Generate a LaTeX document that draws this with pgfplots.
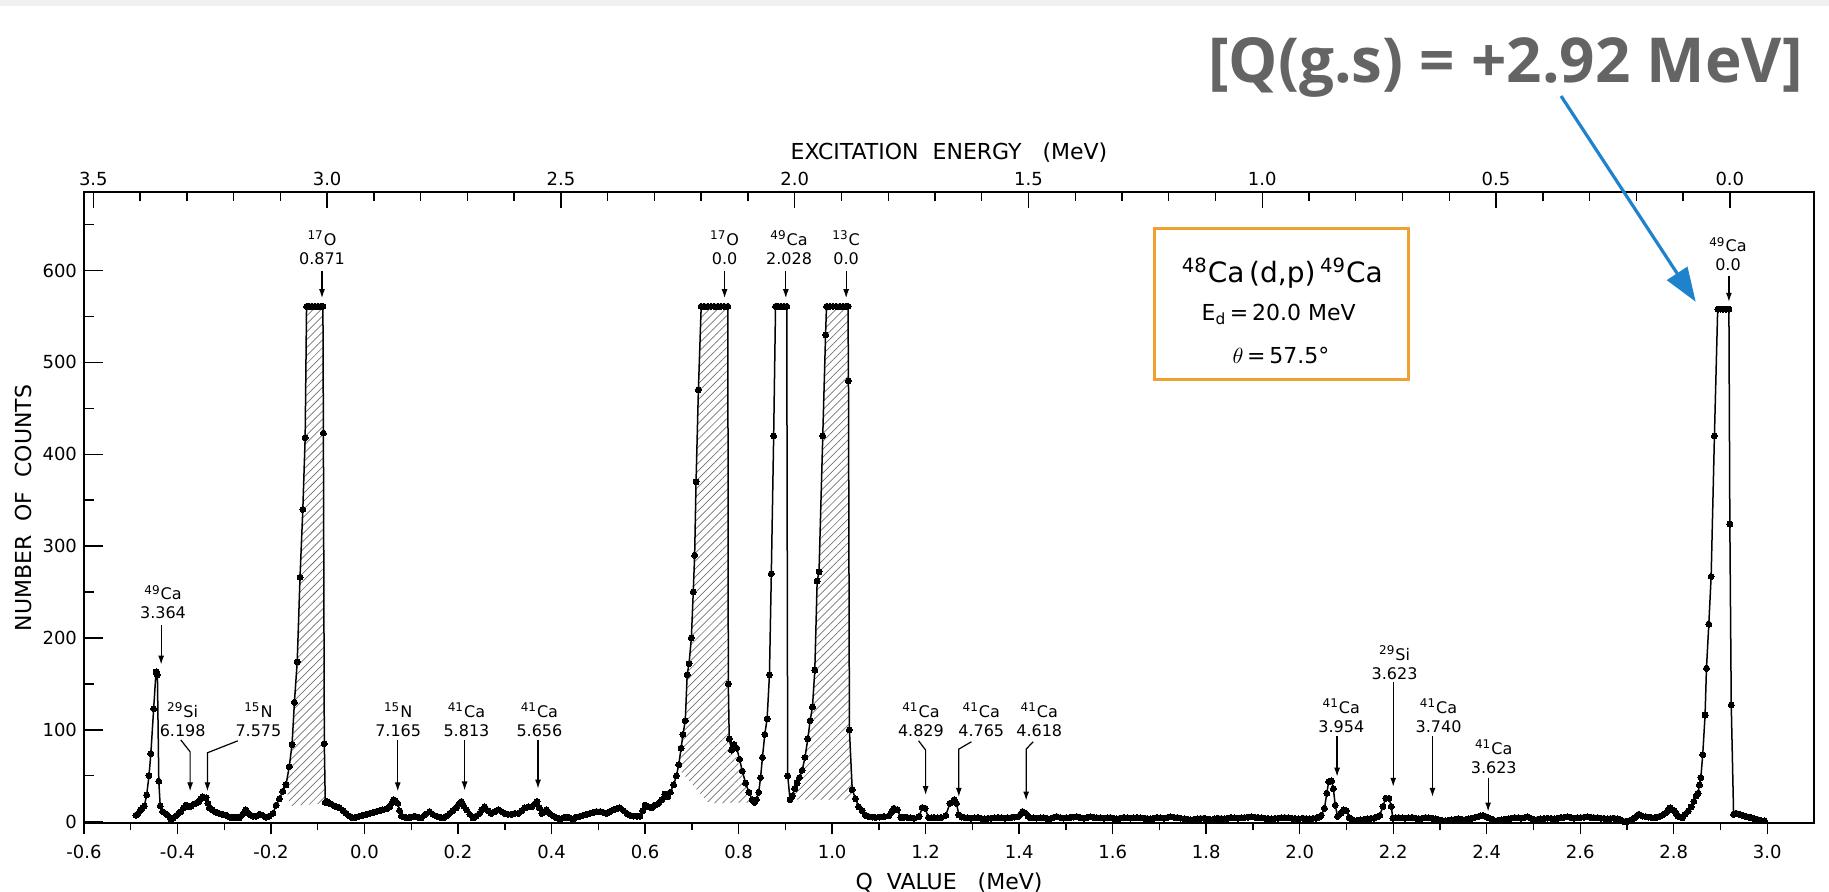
\documentclass[border=0pt]{standalone}
\usepackage{fontspec}
\setmainfont{DejaVu Sans}
\newfontfamily\headfont{Open Sans}
\usepackage{pgfplots}
\usepackage{pgfplotstable}
\pgfplotsset{compat=1.18}
\usetikzlibrary{patterns,patterns.meta,arrows.meta}

\definecolor{boxorange}{RGB}{240,160,48}
\definecolor{arrowblue}{RGB}{30,130,205}
\definecolor{headgray}{RGB}{100,100,100}
\definecolor{stripgray}{RGB}{240,240,240}

\pgfplotstableread{
q c
-0.489 7
-0.484 9
-0.479 13
-0.475 15
-0.471 17
-0.466 29
-0.461 50
-0.457 74
-0.451 123
-0.446 163
-0.443 160
-0.440 44
-0.437 17
-0.432 11
-0.426 9
-0.421 7
-0.414 2
-0.409 4
-0.404 6
-0.398 9
-0.393 11
-0.387 15
-0.382 18
-0.376 16
-0.371 17
-0.366 19
-0.361 20
-0.354 22
-0.350 25
-0.346 27
-0.339 26
-0.335 20
-0.332 15
-0.326 13
-0.321 11
-0.316 10
-0.311 9
-0.304 8
-0.296 7
-0.289 5
-0.282 4
-0.275 5
-0.268 4
-0.261 8
-0.254 13
-0.248 9
-0.243 7
-0.238 6
-0.232 6
-0.225 8
-0.218 7
-0.211 5
-0.204 6
-0.196 9
-0.189 18
-0.182 25
-0.175 33
-0.168 40
-0.161 60
-0.155 84
-0.150 130
-0.144 174
-0.138 266
-0.132 340
-0.127 418
-0.124 561
-0.118 561
-0.112 561
-0.106 561
-0.100 561
-0.094 561
-0.089 561
-0.088 423
-0.086 85
-0.084 21
-0.080 22
-0.075 20
-0.070 19
-0.064 17
-0.059 16
-0.054 15
-0.046 12
-0.039 9
-0.032 6
-0.025 4
-0.018 5
-0.011 6
-0.004 7
0.004 8
0.011 9
0.018 10
0.025 11
0.032 12
0.039 13
0.047 14
0.054 16
0.058 20
0.062 24
0.066 23
0.071 20
0.075 12
0.079 6
0.086 5
0.093 4
0.100 5
0.107 6
0.114 5
0.121 4
0.130 8
0.139 11
0.146 8
0.154 6
0.161 5
0.168 4
0.175 6
0.182 9
0.189 12
0.196 15
0.201 19
0.207 22
0.212 17
0.218 13
0.225 8
0.232 4
0.239 6
0.246 9
0.251 13
0.257 16
0.264 12
0.271 9
0.279 11
0.286 13
0.293 11
0.300 9
0.307 8
0.314 8
0.321 9
0.329 9
0.336 12
0.343 15
0.350 16
0.357 16
0.363 19
0.369 22
0.374 15
0.379 9
0.384 11
0.389 13
0.396 9
0.404 6
0.411 4
0.418 3
0.425 4
0.432 5
0.439 4
0.446 3
0.454 5
0.461 6
0.468 7
0.475 8
0.482 9
0.489 10
0.496 11
0.504 11
0.511 10
0.518 9
0.525 11
0.532 13
0.539 14
0.546 15
0.554 12
0.561 9
0.568 7
0.575 6
0.582 6
0.589 6
0.595 12
0.600 18
0.607 16
0.614 15
0.621 18
0.629 20
0.636 24
0.642 30
0.648 27
0.654 32
0.661 40
0.667 50
0.672 62
0.677 80
0.681 95
0.686 110
0.690 160
0.694 172
0.699 200
0.703 250
0.706 290
0.709 370
0.714 470
0.720 561
0.727 561
0.734 561
0.741 561
0.748 561
0.755 561
0.762 561
0.769 561
0.777 561
0.778 150
0.780 90
0.785 78
0.790 84
0.796 80
0.802 68
0.808 55
0.815 42
0.822 32
0.829 24
0.834 21
0.838 24
0.843 32
0.847 48
0.851 70
0.856 95
0.861 112
0.866 160
0.870 270
0.875 420
0.879 561
0.885 561
0.891 561
0.897 561
0.903 561
0.905 50
0.910 24
0.915 28
0.920 36
0.925 42
0.930 48
0.936 56
0.942 70
0.948 90
0.953 110
0.958 125
0.963 165
0.968 262
0.972 272
0.980 420
0.986 530
0.988 561
0.995 561
1.002 561
1.009 561
1.016 561
1.023 561
1.029 561
1.034 561
1.035 480
1.037 100
1.043 35
1.050 25
1.057 16
1.064 12
1.071 7
1.078 5.6
1.086 5
1.093 4.5
1.102 5
1.111 5.6
1.122 6.7
1.128 11
1.132 14.6
1.139 12.8
1.147 4.5
1.154 5
1.161 4.5
1.168 4
1.175 3.8
1.186 5.6
1.193 15.4
1.199 14.6
1.206 4.5
1.212 4
1.218 4.5
1.226 4
1.233 4.5
1.243 6.7
1.252 20
1.261 23.7
1.266 20
1.271 7.4
1.277 5
1.283 4.5
1.290 4
1.297 3.8
1.305 4.2
1.312 4.5
1.319 3.5
1.326 3.1
1.333 3.6
1.340 3.8
1.348 4.2
1.355 4.5
1.362 4
1.369 3.8
1.376 4.2
1.383 4.5
1.390 5
1.398 5.6
1.403 8
1.407 11
1.414 9.2
1.419 6
1.423 4.5
1.430 4
1.437 3.8
1.445 4.2
1.452 4.5
1.459 3.6
1.466 3.1
1.473 4.5
1.480 5.6
1.488 4.5
1.495 3.8
1.502 4
1.509 4.5
1.516 5
1.523 5.6
1.530 4.5
1.538 3.8
1.545 4.5
1.552 5.2
1.559 4.8
1.566 4.5
1.573 4
1.581 3.8
1.588 4.2
1.595 4.5
1.602 3.6
1.609 3.1
1.616 3.8
1.624 4.5
1.631 4
1.638 3.8
1.645 4.2
1.652 4.5
1.659 4
1.667 3.8
1.674 3.4
1.681 3.1
1.688 3.8
1.695 4.5
1.702 4
1.710 3.8
1.717 4.5
1.724 5.2
1.731 4.8
1.738 4.5
1.745 3.8
1.753 3.1
1.760 2.5
1.767 2
1.774 2.6
1.781 3.1
1.788 3.5
1.796 3.8
1.803 2.8
1.810 2
1.817 2.9
1.825 3.8
1.832 3.4
1.839 3.1
1.846 3.8
1.853 4.5
1.861 4.2
1.868 3.8
1.875 4.2
1.882 4.5
1.889 4.8
1.896 5.2
1.904 4.8
1.911 4.5
1.918 4.2
1.925 3.8
1.932 3.4
1.939 3.1
1.947 3.5
1.954 3.8
1.961 4.2
1.968 4.5
1.975 4.2
1.983 3.8
1.990 3.4
1.997 3.1
2.007 3.8
2.014 3.4
2.021 3.1
2.028 3.5
2.035 3.8
2.041 5
2.046 6.7
2.053 14.6
2.058 31
2.062 43.6
2.068 44.3
2.072 36
2.076 18
2.081 5.6
2.088 9.2
2.094 12.8
2.100 11.8
2.106 4.5
2.112 2.5
2.117 1
2.124 1.5
2.131 2
2.138 2.5
2.145 3.1
2.152 3.5
2.159 3.8
2.165 5
2.171 6.7
2.178 16.5
2.184 25.5
2.191 25.5
2.196 16.5
2.199 3.8
2.205 4
2.212 4.5
2.219 4.2
2.226 3.8
2.233 4.2
2.240 4.5
2.248 3.8
2.255 3.1
2.262 3.8
2.269 4.5
2.276 4.2
2.283 3.8
2.290 2.9
2.297 2
2.304 1.5
2.311 1
2.318 1.5
2.325 2
2.332 2.5
2.339 3.1
2.346 2.5
2.354 2
2.361 2.9
2.368 3.8
2.375 4.7
2.382 5.6
2.387 6.2
2.392 6.7
2.398 5.6
2.403 4.5
2.410 2.8
2.417 1
2.424 1.5
2.431 2
2.438 2.5
2.446 3.1
2.453 3.8
2.460 4.5
2.467 4.2
2.474 3.8
2.481 4.5
2.488 5.2
2.495 3.6
2.502 2
2.509 2.5
2.516 3.1
2.523 3.5
2.530 3.8
2.538 3.5
2.545 3.1
2.552 3.8
2.559 4.5
2.566 4.8
2.573 5.2
2.580 4.5
2.587 3.8
2.594 4.2
2.601 4.5
2.608 4.8
2.615 5.2
2.622 4.8
2.629 4.5
2.637 4.2
2.644 3.8
2.651 3.5
2.658 3.1
2.665 3.5
2.672 3.8
2.679 2.9
2.686 2
2.691 0.5
2.697 0.3
2.703 0.5
2.710 2
2.716 4
2.720 6
2.725 8
2.729 7
2.733 6
2.740 5.5
2.746 5
2.752 4.5
2.758 4
2.765 5
2.771 6
2.778 8
2.784 10
2.788 13
2.792 15
2.797 13
2.801 12
2.805 9
2.809 6
2.814 5
2.818 4
2.824 8
2.831 11.6
2.837 16
2.843 22
2.848 28
2.852 31
2.855 40
2.858 48
2.862 73
2.867 116
2.870 167
2.875 215
2.880 267
2.887 420
2.894 558
2.900 558
2.906 558
2.912 558
2.918 558
2.920 324
2.923 127
2.928 8
2.934 9
2.941 8
2.947 7
2.953 6
2.960 5
2.966 4
2.972 3
2.979 2.5
2.986 1.5
2.994 1
}\spectrum

\pgfplotsset{
  common/.style={at={(0,0)}, anchor=south west, scale only axis,
    width=865pt, height=315.5pt, ymin=-2, ymax=685,
    axis line style={line width=1pt, black},
    tick style={line width=0.7pt, black},
    /pgf/number format/assume math mode=true},
}
\tikzset{
  lbl/.style={align=center, font=\fontsize{8}{9.5}\selectfont, inner sep=0pt},
  arr/.style={-{Latex[length=4.5pt,width=3pt]}, line width=0.6pt},
}

\begin{document}
\begin{tikzpicture}
\path[use as bounding box] (-42pt,-34.25pt) rectangle (872.5pt,411.75pt);
\fill[stripgray] (-42pt,408.5pt) rectangle (872.5pt,411.75pt);

% bottom Q-value axis
\begin{axis}[common, xmin=-0.6, xmax=3.1, hide y axis, axis x line*=bottom,
  xtick={-0.6,-0.4,-0.2,0,0.2,0.4,0.6,0.8,1.0,1.2,1.4,1.6,1.8,2.0,2.2,2.4,2.6,2.8,3.0},
  xticklabels={-0.6,-0.4,-0.2,0.0,0.2,0.4,0.6,0.8,1.0,1.2,1.4,1.6,1.8,2.0,2.2,2.4,2.6,2.8,3.0},
  minor xtick={-0.5,-0.3,-0.1,0.1,0.3,0.5,0.7,0.9,1.1,1.3,1.5,1.7,1.9,2.1,2.3,2.5,2.7,2.9},
  tick align=outside, major tick length=5.5pt, minor tick length=3.5pt,
  xticklabel style={font=\fontsize{9}{9}\selectfont, yshift=-2pt},
  xlabel={Q\ \ VALUE\ \ \ (MeV)},
  xlabel style={font=\fontsize{11}{11}\selectfont, at={(axis description cs:0.5,0)}, anchor=center, yshift=-29.5pt}]
\end{axis}

% top excitation-energy axis
\begin{axis}[common, xmin=-0.18, xmax=3.52, x dir=reverse, hide y axis, axis x line*=top,
  xtick={0,0.5,1,1.5,2,2.5,3,3.5},
  xticklabels={0.0,0.5,1.0,1.5,2.0,2.5,3.0,3.5},
  minor xtick={0.1,0.2,0.3,0.4,0.6,0.7,0.8,0.9,1.1,1.2,1.3,1.4,1.6,1.7,1.8,1.9,2.1,2.2,2.3,2.4,2.6,2.7,2.8,2.9,3.1,3.2,3.3,3.4},
  tick align=inside, major tick length=8pt, minor tick length=4.5pt,
  xticklabel style={font=\fontsize{9}{9}\selectfont},
  xlabel={EXCITATION\ \ ENERGY\ \ \ (MeV)},
  xlabel style={font=\fontsize{11}{11}\selectfont, at={(axis description cs:0.5,1)}, anchor=center, yshift=20pt}]
\end{axis}

% main axis with the spectrum
\begin{axis}[common, xmin=-0.6, xmax=3.1, clip=false,
  xtick=\empty, tick pos=left,
  ytick={0,100,200,300,400,500,600},
  minor ytick={50,150,250,350,450,550,650},
  tick align=inside, major tick length=9.5pt, minor tick length=5pt,
  yticklabel style={font=\fontsize{9}{9}\selectfont},
  ylabel={NUMBER\ \ OF\ \ COUNTS},
  ylabel style={font=\fontsize{11}{11}\selectfont, at={(axis description cs:-0.0347,0.5)}, anchor=center}]

% hatched areas
\addplot[draw=none, pattern={Lines[angle=45,distance=2.8pt,line width=0.35pt]}, pattern color=black!55]
 coordinates {(-0.168,40) (-0.161,60) (-0.155,84) (-0.150,130) (-0.144,174) (-0.138,266) (-0.132,340) (-0.127,418) (-0.124,561) (-0.089,561) (-0.088,423) (-0.086,85) (-0.085,20) (-0.160,17)} -- cycle;
\addplot[draw=none, pattern={Lines[angle=45,distance=2.8pt,line width=0.35pt]}, pattern color=black!55]
 coordinates {(0.671,58) (0.677,80) (0.681,95) (0.686,110) (0.690,160) (0.694,172) (0.699,200) (0.703,250) (0.706,290) (0.709,370) (0.714,470) (0.720,561) (0.777,561) (0.778,150) (0.780,90) (0.834,21) (0.736,20)} -- cycle;
\addplot[draw=none, pattern={Lines[angle=45,distance=2.8pt,line width=0.35pt]}, pattern color=black!55]
 coordinates {(0.910,24) (0.915,28) (0.920,36) (0.925,42) (0.930,48) (0.936,56) (0.942,70) (0.948,90) (0.953,110) (0.958,125) (0.963,165) (0.968,262) (0.972,272) (0.980,420) (0.986,530) (0.988,561) (1.034,561) (1.035,480) (1.037,100) (1.043,35) (1.048,24)} -- cycle;

% spectrum
\addplot[black, line width=0.75pt, mark=*, mark size=1.5pt, mark options={line width=0pt}] table[x=q,y=c]{\spectrum};

% peak labels
\node[lbl] at (axis cs:-0.431,239) {\textsuperscript{49}Ca\\3.364};
\draw[arr] (axis cs:-0.435,214) -- (axis cs:-0.435,171);
\node[lbl] at (axis cs:-0.389,111) {\textsuperscript{29}Si\\6.198};
\draw[arr] (axis cs:-0.393,89) -- (axis cs:-0.373,76) -- (axis cs:-0.373,33);
\node[lbl] at (axis cs:-0.227,111) {\textsuperscript{15}N\\7.575};
\draw[arr] (axis cs:-0.271,88) -- (axis cs:-0.336,75) -- (axis cs:-0.336,33);
\node[lbl] at (axis cs:0.072,111) {\textsuperscript{15}N\\7.165};
\draw[arr] (axis cs:0.071,89) -- (axis cs:0.071,33);
\node[lbl] at (axis cs:0.218,111) {\textsuperscript{41}Ca\\5.813};
\draw[arr] (axis cs:0.214,89) -- (axis cs:0.214,34);
\node[lbl] at (axis cs:0.374,111) {\textsuperscript{41}Ca\\5.656};
\draw[arr] (axis cs:0.371,89) -- (axis cs:0.371,36);
\node[lbl] at (axis cs:-0.091,625) {\textsuperscript{17}O\\0.871};
\draw[arr] (axis cs:-0.091,600) -- (axis cs:-0.091,570);
\node[lbl] at (axis cs:0.770,625) {\textsuperscript{17}O\\0.0};
\draw[arr] (axis cs:0.770,600) -- (axis cs:0.770,570);
\node[lbl] at (axis cs:0.908,625) {\textsuperscript{49}Ca\\2.028};
\draw[arr] (axis cs:0.901,600) -- (axis cs:0.901,570);
\node[lbl] at (axis cs:1.030,625) {\textsuperscript{13}C\\0.0};
\draw[arr] (axis cs:1.030,600) -- (axis cs:1.030,570);
\node[lbl] at (axis cs:1.190,111) {\textsuperscript{41}Ca\\4.829};
\draw[arr] (axis cs:1.185,88) -- (axis cs:1.200,78) -- (axis cs:1.200,29);
\node[lbl] at (axis cs:1.319,111) {\textsuperscript{41}Ca\\4.765};
\draw[arr] (axis cs:1.298,87) -- (axis cs:1.271,79) -- (axis cs:1.271,27);
\node[lbl] at (axis cs:1.443,111) {\textsuperscript{41}Ca\\4.618};
\draw[arr] (axis cs:1.430,87) -- (axis cs:1.415,79) -- (axis cs:1.415,23);
\node[lbl] at (axis cs:2.089,115) {\textsuperscript{41}Ca\\3.954};
\draw[arr] (axis cs:2.080,93) -- (axis cs:2.080,49);
\node[lbl] at (axis cs:2.203,173) {\textsuperscript{29}Si\\3.623};
\draw[arr] (axis cs:2.200,152) -- (axis cs:2.200,38);
\node[lbl] at (axis cs:2.297,115) {\textsuperscript{41}Ca\\3.740};
\draw[arr] (axis cs:2.284,93) -- (axis cs:2.284,27);
\node[lbl] at (axis cs:2.415,71) {\textsuperscript{41}Ca\\3.623};
\draw[arr] (axis cs:2.403,48) -- (axis cs:2.403,11);
\node[lbl] at (axis cs:2.916,618) {\textsuperscript{49}Ca\\0.0};
\draw[arr] (axis cs:2.918,594) -- (axis cs:2.918,566);

% reaction box
\draw[boxorange, line width=1.6pt] (axis cs:1.689,481) rectangle (axis cs:2.233,646);
\node[font=\fontsize{14}{14}\selectfont] at (axis cs:1.963,597) {\textsuperscript{48}Ca\,(d,p)\,\textsuperscript{49}Ca};
\node[font=\fontsize{11}{11}\selectfont] at (axis cs:1.955,552) {E\textsubscript{d}\,=\,20.0 MeV};
\node[font=\fontsize{11}{11}\selectfont] at (axis cs:1.960,507) {$\theta$\,=\,57.5°};

% header and blue arrow
\node[font=\headfont\bfseries\fontsize{31}{31}\selectfont, text=headgray, anchor=base] at (axis cs:2.440,805) {[Q(g.s) = +2.92 MeV]};
\draw[arrowblue, line width=1.6pt, -{Triangle[length=17pt,width=12pt]}] (axis cs:2.559,790) -- (axis cs:2.847,566);
\end{axis}
\end{tikzpicture}
\end{document}
